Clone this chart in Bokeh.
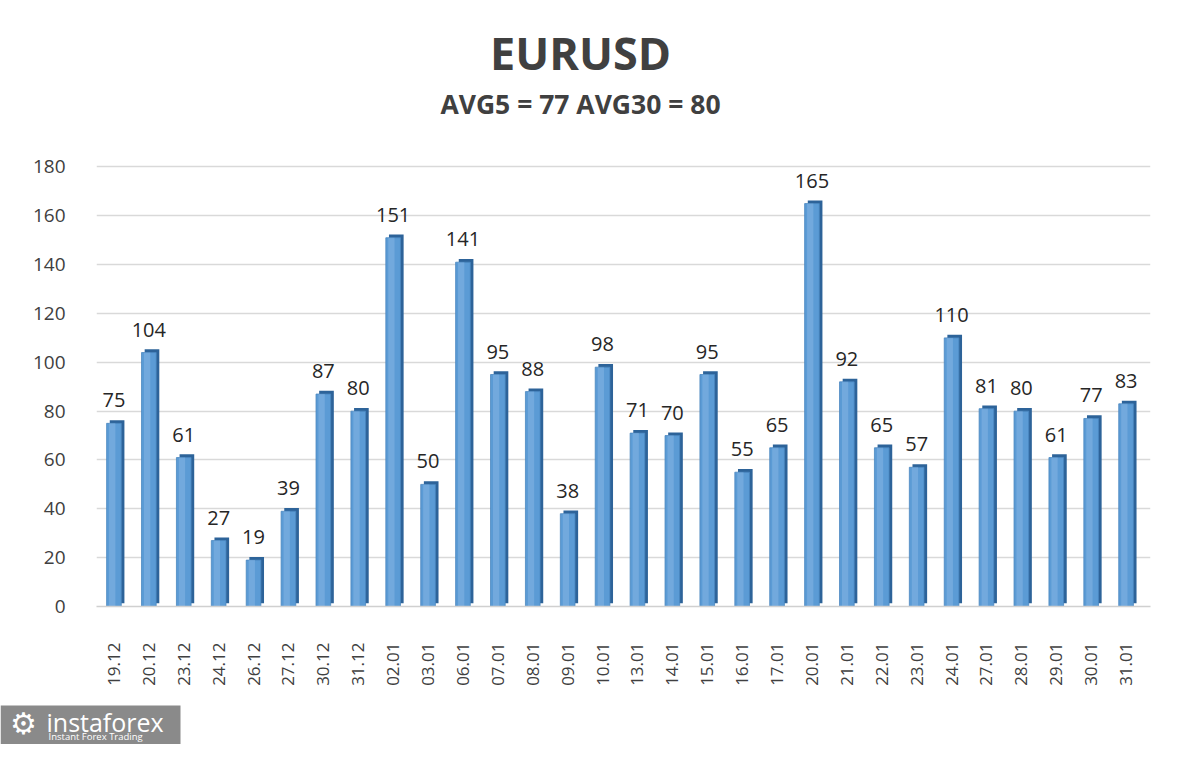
import numpy as np
from bokeh.plotting import figure
from bokeh.layouts import column
from bokeh.models import Range1d, FixedTicker, ColumnDataSource, LabelSet
from bokeh.core.properties import value
from bokeh.transform import dodge
from bokeh.embed import file_html
from bokeh.resources import INLINE

dates = ["19.12", "20.12", "23.12", "24.12", "26.12", "27.12", "30.12", "31.12", "02.01", "03.01",
         "06.01", "07.01", "08.01", "09.01", "10.01", "13.01", "14.01", "15.01", "16.01", "17.01",
         "20.01", "21.01", "22.01", "23.01", "24.01", "27.01", "28.01", "29.01", "30.01", "31.01"]
values = [75, 104, 61, 27, 19, 39, 87, 80, 151, 50,
          141, 95, 88, 38, 98, 71, 70, 95, 55, 65,
          165, 92, 65, 57, 110, 81, 80, 61, 77, 83]
y_ticks = [0, 20, 40, 60, 80, 100, 120, 140, 160, 180]
title_text = "EURUSD"
subtitle_text = "AVG5 = 77 AVG30 = 80"
logo_text = "instaforex"
logo_tagline = "Instant Forex Trading"

W = 1184
H_TOP, H_MAIN, H_LOGO = 120, 580, 44


def blank(h):
    f = figure(width=W, height=h, output_backend="svg", toolbar_location=None,
               x_range=Range1d(0, W), y_range=Range1d(h, 0),
               x_axis_location=None, y_axis_location=None,
               min_border=0, min_border_left=0, min_border_right=0,
               min_border_top=0, min_border_bottom=0, frame_align=False)
    f.grid.grid_line_color = None
    f.outline_line_color = None
    f.background_fill_color = "white"
    f.border_fill_color = "white"
    return f


# ---- title strip ----
top = blank(H_TOP)
top.text(x=[580], y=[52], text=[title_text], text_align="center", text_baseline="middle",
         text_font=value("Open Sans"), text_font_style="bold", text_font_size="45px",
         text_color="#404040")
top.text(x=[580], y=[103], text=[subtitle_text], text_align="center", text_baseline="middle",
         text_font=value("Open Sans"), text_font_style="bold", text_font_size="26.5px",
         text_color="#404040")

# ---- main chart ----
idx = list(range(len(dates)))
src = ColumnDataSource(dict(x=idx, v=values, lbl=[str(v) for v in values],
                            side_top=[v + 1.3 for v in values]))

FL, FR = 96, 1150
FT, FB = 164 - H_TOP, 606 - H_TOP
p = figure(width=W, height=H_MAIN, output_backend="svg", toolbar_location=None,
           x_range=Range1d(-0.5, 29.7), y_range=Range1d(0, 181),
           min_border_left=FL, min_border_right=W - FR, min_border_top=FT,
           min_border_bottom=H_MAIN - FB, frame_align=False)
p.outline_line_color = None
p.background_fill_color = "white"
p.border_fill_color = "white"

p.xgrid.grid_line_color = None
p.ygrid.grid_line_color = "#d9d9d9"
p.ygrid.grid_line_width = 1.5
p.ygrid.ticker = FixedTicker(ticks=y_ticks)

p.yaxis.ticker = FixedTicker(ticks=y_ticks)
p.yaxis.axis_line_color = None
p.yaxis.major_tick_line_color = None
p.yaxis.minor_tick_line_color = None
p.yaxis.major_label_standoff = 25
p.yaxis.major_label_text_font = "Open Sans"
p.yaxis.major_label_text_font_size = "19px"
p.yaxis.major_label_text_color = "#404040"

p.xaxis.ticker = FixedTicker(ticks=idx)
p.xaxis.major_label_overrides = {i: d for i, d in zip(idx, dates)}
p.xaxis.axis_line_color = "#d0d0d0"
p.xaxis.axis_line_width = 1.5
p.xaxis.major_tick_line_color = None
p.xaxis.minor_tick_line_color = None
p.xaxis.major_label_orientation = np.pi / 2
p.xaxis.major_label_standoff = 30
p.xaxis.major_label_text_font = "Open Sans"
p.xaxis.major_label_text_font_size = "17px"
p.xaxis.major_label_text_color = "#404040"

# bars: dark side face, front face, soft highlight
p.vbar(x=dodge("x", 0.09, range=p.x_range), top="side_top", bottom=1.3, width=0.42,
       source=src, fill_color="#2d6399", line_color=None)
p.vbar(x="x", top="v", width=0.42, source=src, fill_color="#5b9bd5",
       line_color="#4a86bf", line_width=0.8)
p.vbar(x=dodge("x", -0.05, range=p.x_range), top="v", width=0.18, source=src,
       fill_color="#8dbbe6", fill_alpha=0.45, line_color=None)

labels = LabelSet(x="x", y="v", text="lbl", source=src, text_align="center",
                  text_baseline="bottom", y_offset=16, text_font=value("Open Sans"),
                  text_font_size=value("20px"), text_color=value("#262626"))
p.add_layout(labels)

# ---- logo strip ----
bot = blank(H_LOGO)
bot.quad(left=[0], right=[180], top=[5], bottom=[H_LOGO], fill_color="#8a8a8a",
         line_color=None)
bot.text(x=[23], y=[23], text=["\u2699"], text_align="center", text_baseline="middle",
         text_font=value("DejaVu Sans"), text_font_size="30px", text_color="white")
bot.text(x=[46], y=[21], text=[logo_text], text_align="left", text_baseline="middle",
         text_font=value("Open Sans"), text_font_size="25px", text_color="white")
bot.text(x=[48], y=[36], text=[logo_tagline], text_align="left", text_baseline="middle",
         text_font=value("Open Sans"), text_font_size="9.5px", text_color="white")

layout = column(top, p, bot, spacing=0)
open("out.html", "w").write(file_html(layout, INLINE))
